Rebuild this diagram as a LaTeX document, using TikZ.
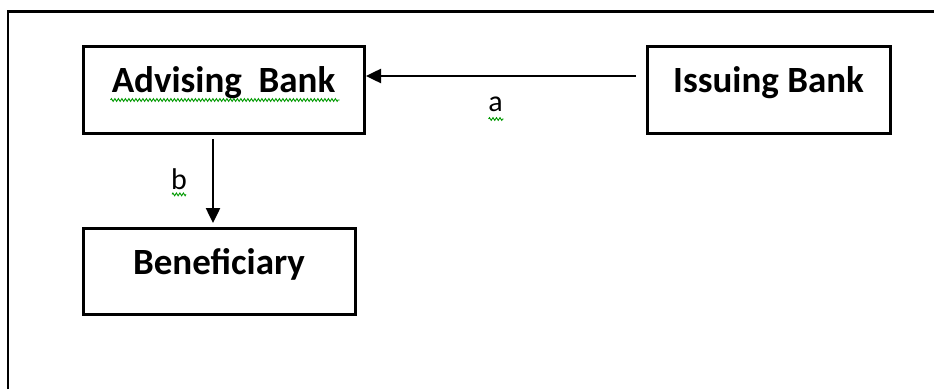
\documentclass[tikz,border=0pt]{standalone}
\usepackage{fontspec}
\setmainfont{Carlito}
\usetikzlibrary{arrows.meta,decorations.pathmorphing}

\begin{document}
\begin{tikzpicture}[x=1pt, y=1pt,
    banque/.style={draw, line width=3pt, inner sep=0pt, text height=46pt, text depth=40pt, anchor=base, font=\bfseries\fontsize{37}{44}\selectfont},
    fleche/.style={line width=2.5pt, -{Triangle[length=15pt, width=14pt]}},
    lettre/.style={anchor=base, font=\fontsize{30}{36}\selectfont},
    souligne/.style={green!60!black, line width=0.9pt, decorate, decoration={zigzag, segment length=3.5pt, amplitude=1.4pt}}]

    \useasboundingbox (0,0) rectangle (934,389);

    % Cadre
    \draw[line width=2pt] (8,0) -- (8,377);
    \draw[line width=3pt] (7,377) -- (934,377);

    % Banques
    \node[banque, minimum width=281pt] (adv) at (223.5,296) {Advising\ \ Bank};
    \node[banque, minimum width=243pt] (iss) at (768.5,296) {Issuing Bank};
    \node[banque, minimum width=272pt] (ben) at (219,115) {Beneficiary};

    % Flèches
    \draw[fleche] ([shift={(-9.5,14)}]iss.west) -- ([shift={(0.5,14)}]adv.east)
        node[lettre, pos=0.52, yshift=-36pt] (la) {a};
    \draw[fleche] ([shift={(-10.5,-4.5)}]adv.south) -- ([shift={(-6,3.5)}]ben.north)
        node[lettre, pos=0.6, xshift=-34pt] (lb) {b};

    % Soulignements
    \draw[souligne] ([shift={(-113,-7)}]adv.base) -- ([shift={(116,-7)}]adv.base);
    \draw[souligne] ([shift={(-7,-7)}]la.base) -- ([shift={(8,-7)}]la.base);
    \draw[souligne] ([shift={(-7,-5)}]lb.base) -- ([shift={(7,-5)}]lb.base);
\end{tikzpicture}
\end{document}
